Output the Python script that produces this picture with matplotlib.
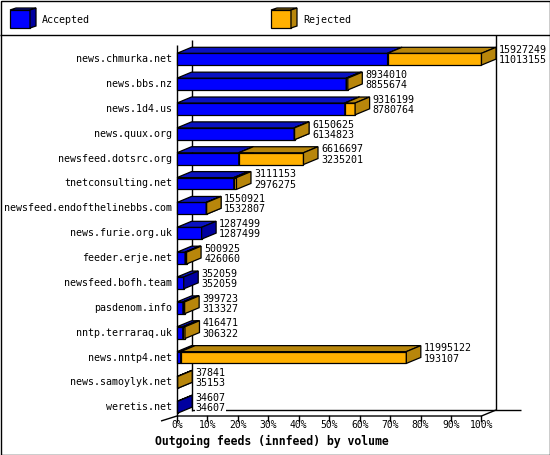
import matplotlib
matplotlib.use("Agg")
import matplotlib.pyplot as plt
from matplotlib.patches import Polygon
from matplotlib.transforms import Affine2D, blended_transform_factory

# ---------------- data ----------------
hosts = ["news.chmurka.net", "news.bbs.nz", "news.1d4.us", "news.quux.org",
         "newsfeed.dotsrc.org", "tnetconsulting.net", "newsfeed.endofthelinebbs.com",
         "news.furie.org.uk", "feeder.erje.net", "newsfeed.bofh.team",
         "pasdenom.info", "nntp.terraraq.uk", "news.nntp4.net",
         "news.samoylyk.net", "weretis.net"]
offered = [15927249, 8934010, 9316199, 6150625, 6616697, 3111153, 1550921,
           1287499, 500925, 352059, 399723, 416471, 11995122, 37841, 34607]
accepted = [11013155, 8855674, 8780764, 6134823, 3235201, 2976275, 1532807,
            1287499, 426060, 352059, 313327, 306322, 193107, 35153, 34607]
series_names = ["Accepted", "Rejected"]
tick_values = [0, 10, 20, 30, 40, 50, 60, 70, 80, 90, 100]
title = "Outgoing feeds (innfeed) by volume"

# ---------------- style ----------------
W, H, DPI = 550, 455, 100
MONO = "DejaVu Sans Mono"
BLUE = ("#0000ff", "#0a12c0", "#0000a0")     # front, top, side
ORANGE = ("#ffb000", "#b8860b", "#b8860b")

fig = plt.figure(figsize=(W / DPI, H / DPI), dpi=DPI)
ax = fig.add_axes([0, 0, 1, 1])
ax.set_axis_off()

# pixel geometry of the plot
X0, X100 = 177.0, 481.5          # 0% and 100% on the front plane
ROW0, ROWSTEP = 59.2, 24.86      # centre of first row, row step
sx = (X100 - X0) / 100.0
ax.set_xlim(-X0 / sx, (W - X0) / sx)
ax.set_ylim((H - ROW0) / ROWSTEP, -ROW0 / ROWSTEP)

DXP, DYP, HP = 14.5, 6.0, 5.9    # 3D depth (px) and half bar height (px)
dxu = DXP / sx
dyu = DYP / ROWSTEP
hu = HP / ROWSTEP

# pixel transform (x right, y down) for the frame
tpx = Affine2D().scale(1 / DPI, -1 / DPI).translate(0, H / DPI) + fig.dpi_scale_trans
tx = blended_transform_factory(ax.transData, tpx)

def pline(xs, ys, **kw):
    ax.plot(xs, ys, color="black", lw=1, transform=tpx, clip_on=False,
            solid_capstyle="butt", **kw)

# outer border and legend separator
pline([0.5, W - 0.5, W - 0.5, 0.5, 0.5], [0.5, 0.5, H - 0.5, H - 0.5, 0.5], zorder=1)
pline([0, W], [35, 35], zorder=1)

# back walls and floor
BX = X0 + DXP
FLOOR = 416
pline([BX, BX], [40, FLOOR - DYP + 0.5], zorder=1)
pline([X100 + DXP, X100 + DXP], [35, FLOOR - DYP], zorder=1)
pline([BX, W - 29], [FLOOR - DYP, FLOOR - DYP], zorder=1)
pline([X0, X0], [45, FLOOR], zorder=1)
pline([X0 - 16, X0, X100, X100 + DXP], [FLOOR + 5, FLOOR, FLOOR, FLOOR - DYP], zorder=1)

# ticks
for t in tick_values:
    ax.plot([t, t], [FLOOR, FLOOR + 5], color="black", lw=1, transform=tx,
            clip_on=False, zorder=1)
    ax.text(t, FLOOR + 9, f"{t}%", transform=tx, ha="center", va="center",
            fontsize=7.0, family=MONO, zorder=5)

# ---------------- 3D bars ----------------
def box(a, b, yc, cols, z):
    if b - a <= 0:
        return
    top, bot = yc - hu, yc + hu
    front = [(a, top), (b, top), (b, bot), (a, bot)]
    topf = [(a, top), (b, top), (b + dxu, top - dyu), (a + dxu, top - dyu)]
    side = [(b, top), (b + dxu, top - dyu), (b + dxu, bot - dyu), (b, bot)]
    for pts, c in ((front, cols[0]), (topf, cols[1]), (side, cols[2])):
        ax.add_patch(Polygon(pts, closed=True, facecolor=c, edgecolor="black",
                             lw=0.9, joinstyle="miter", zorder=z))

vmax = max(offered)
for i, (h, off, acc) in enumerate(zip(hosts, offered, accepted)):
    pa = acc / vmax * 100
    po = off / vmax * 100
    box(0, pa, i, BLUE, 3)
    box(pa, po, i, ORANGE, 3.5)
    ax.text(-5 / sx, i, h, ha="right", va="center", fontsize=7.2, family=MONO,
            zorder=5)
    xt = po + dxu + 3 / sx
    for val, off_px in ((off, -9.2), (acc, 1.0)):
        ax.text(xt, i + off_px / ROWSTEP, str(val), ha="left", va="center",
                fontsize=7.2, family=MONO, zorder=6,
                bbox=dict(facecolor="white", edgecolor="none", pad=0.3))

# ---------------- legend ----------------
def legend_cube(x, cols):
    fx0, fx1, fy0, fy1, d, dy = x, x + 20, 10, 28, 6, 2
    faces = [
        ([(fx0, fy0), (fx1, fy0), (fx1, fy1), (fx0, fy1)], cols[0]),
        ([(fx0, fy0), (fx1, fy0), (fx1 + d, fy0 - dy), (fx0 + d, fy0 - dy)], cols[1]),
        ([(fx1, fy0), (fx1 + d, fy0 - dy), (fx1 + d, fy1 - dy), (fx1, fy1)], cols[2]),
    ]
    for pts, c in faces:
        ax.add_patch(Polygon(pts, closed=True, facecolor=c, edgecolor="black",
                             lw=0.9, transform=tpx, clip_on=False, zorder=5))

legend_cube(10, BLUE)
ax.text(42, 20, series_names[0], transform=tpx, ha="left", va="center",
        fontsize=7.2, family=MONO)
legend_cube(271, ORANGE)
ax.text(303, 20, series_names[1], transform=tpx, ha="left", va="center",
        fontsize=7.2, family=MONO)

# title
ax.text(155, 441, title, transform=tpx, ha="left", va="center",
        fontsize=8.3, family=MONO, fontweight="bold")

fig.savefig("out.png", dpi=DPI, facecolor="white")
